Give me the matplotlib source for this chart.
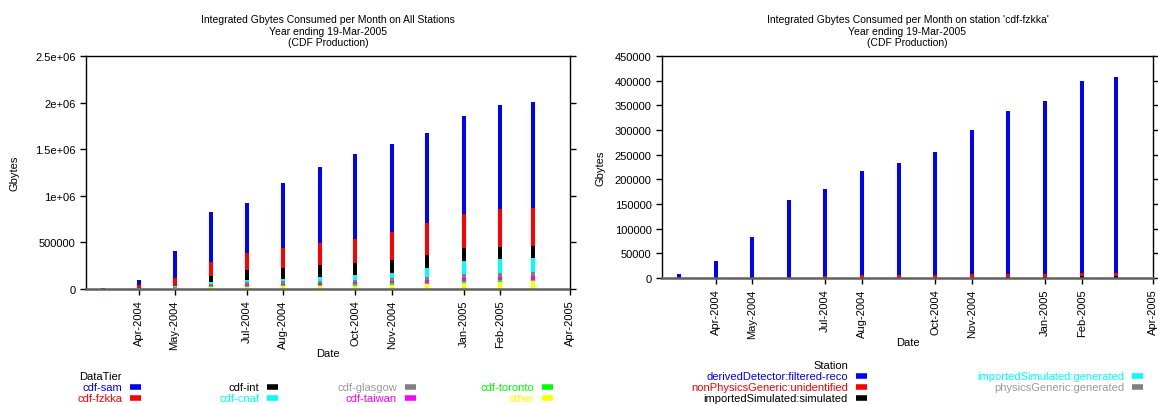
import matplotlib
matplotlib.use('Agg')
import matplotlib.pyplot as plt
import matplotlib.dates as mdates
import matplotlib.ticker as mticker
from matplotlib.lines import Line2D
import pandas as pd
import numpy as np

plt.rcParams['font.family'] = ['Liberation Sans', 'DejaVu Sans']

# one bar per month (integrated over the year ending 19-Mar-2005)
months = ['2004-03-01', '2004-04-01', '2004-05-01', '2004-06-01', '2004-07-01',
          '2004-08-01', '2004-09-01', '2004-10-01', '2004-11-01', '2004-12-01',
          '2005-01-01', '2005-02-01', '2005-03-01']
tick_dates = ['2004-04-01', '2004-05-01', '2004-07-01', '2004-08-01', '2004-10-01',
              '2004-11-01', '2005-01-01', '2005-02-01', '2005-04-01']

# all stations (Gbytes)
cdf_sam = [0, 52000, 292000, 530000, 537000, 702000, 813000, 909000, 946000, 970000, 1053000, 1124000, 1136000]
cdf_fzkka = [9000, 35000, 84000, 159000, 181000, 217000, 234000, 256000, 300000, 339000, 358000, 400000, 407000]
cdf_int = [0, 0, 3000, 65000, 108000, 113000, 129000, 129000, 136000, 136000, 143000, 136000, 136000]
cdf_cnaf = [0, 3000, 10000, 14000, 18000, 25000, 43000, 50000, 61000, 100000, 140000, 143000, 151000]
cdf_glasgow = [0, 1000, 5000, 11000, 21000, 25000, 25000, 29000, 25000, 32000, 43000, 43000, 43000]
cdf_taiwan = [0, 1000, 5000, 14000, 21000, 18000, 18000, 21000, 25000, 29000, 36000, 36000, 36000]
cdf_toronto = [0, 1000, 3000, 11000, 11000, 11000, 11000, 14000, 18000, 18000, 18000, 18000, 18000]
other = [0, 2000, 7000, 21000, 25000, 29000, 32000, 36000, 47000, 50000, 64000, 79000, 82000]

# station cdf-fzkka (Gbytes)
derived_reco = [9000, 34500, 83000, 157000, 176000, 211000, 228000, 250000, 291000, 330500, 349000, 390000, 397000]
nonphys_unid = [0, 500, 1000, 2000, 5000, 6000, 6000, 6000, 8000, 7000, 7000, 6000, 6000]
imp_simulated = [0, 0, 0, 0, 0, 0, 0, 0, 1000, 1500, 2000, 4000, 4000]
imp_generated = [0, 0, 0, 0, 0, 0, 0, 0, 0, 0, 0, 0, 0]
phys_generated = [0, 0, 0, 0, 0, 0, 0, 0, 0, 0, 0, 0, 0]

BLUE, RED, BLACK, CYAN = '#0000ff', '#ff0000', '#000000', '#00ffff'
GRAY, MAGENTA, GREEN, YELLOW = '#808080', '#ff00ff', '#00ff00', '#ffff00'

dates = pd.to_datetime(months)
ticks = pd.to_datetime(tick_dates)

W, H = 1158, 406
fig = plt.figure(figsize=(W / 100, H / 100), dpi=100)


def px(x, y):
    return x / W, 1 - y / H


def setup_axes(ax, title, ymax, ystep, fmt, ylab_x, xlab_y):
    ax.set_xlim(pd.Timestamp('2004-02-16'), pd.Timestamp('2005-04-01'))
    ax.set_ylim(0, ymax)
    ax.set_xticks(ticks)
    ax.xaxis.set_major_formatter(mdates.DateFormatter('%b-%Y'))
    ax.yaxis.set_major_locator(mticker.MultipleLocator(ystep))
    ax.yaxis.set_major_formatter(fmt)
    ax.tick_params(axis='x', rotation=90, labelsize=8, length=4, width=1, direction='out')
    ax.tick_params(axis='y', labelsize=8, length=4, width=1, direction='out', right=True)
    ax.set_title(title, fontsize=7.5, pad=8, linespacing=1.15)
    ax.set_ylabel('Gbytes', fontsize=8)
    ax.yaxis.set_label_coords(ylab_x, 0.5)
    ax.set_xlabel('Date', fontsize=8)
    ax.xaxis.set_label_coords(0.5, xlab_y)
    for s in ('left', 'right', 'top'):
        ax.spines[s].set_linewidth(1)
    ax.spines['bottom'].set_color('#606060')
    ax.spines['bottom'].set_linewidth(1.8)
    ax.spines['bottom'].set_linestyle((0, (1, 1)))


def stack(ax, series, colors):
    bottom = np.zeros(len(dates))
    for vals, c in zip(series, colors):
        ax.bar(dates, vals, bottom=bottom, width=3.4, color=c, linewidth=0, align='center')
        bottom += np.array(vals)


def legend_entry(text, tcolor, scolor, x_end, y):
    fig.text(*px(x_end, y), text, color=tcolor, fontsize=8, ha='right', va='center')
    x0, y0 = px(x_end + 8, y)
    x1, _ = px(x_end + 19, y)
    fig.add_artist(Line2D([x0, x1], [y0, y0], color=scolor, lw=4, solid_capstyle='butt'))


def gfmt(v, pos):
    return '%g' % v


# left chart
ax1 = fig.add_axes([86 / W, 1 - 290 / H, (570 - 86) / W, (290 - 57) / H])
stack(ax1,
      [other, cdf_toronto, cdf_taiwan, cdf_glasgow, cdf_cnaf, cdf_int, cdf_fzkka, cdf_sam],
      [YELLOW, GREEN, MAGENTA, GRAY, CYAN, BLACK, RED, BLUE])
setup_axes(ax1, 'Integrated Gbytes Consumed per Month on All Stations\nYear ending 19-Mar-2005\n(CDF Production)',
           2.5e6, 500000, mticker.FuncFormatter(gfmt), -0.138, -0.253)

fig.text(*px(122, 377), 'DataTier', color='black', fontsize=8, ha='right', va='center')
legend_entry('cdf-sam', BLUE, BLUE, 122, 388)
legend_entry('cdf-fzkka', RED, RED, 122, 399)
legend_entry('cdf-int', BLACK, BLACK, 259, 388)
legend_entry('cdf-cnaf', CYAN, CYAN, 259, 399)
legend_entry('cdf-glasgow', '#9a9a9a', GRAY, 397, 388)
legend_entry('cdf-taiwan', MAGENTA, MAGENTA, 397, 399)
legend_entry('cdf-toronto', GREEN, GREEN, 534, 388)
legend_entry('other', YELLOW, YELLOW, 534, 399)

# right chart
ax2 = fig.add_axes([662 / W, 1 - 279 / H, (1153 - 662) / W, (279 - 57) / H])
stack(ax2,
      [phys_generated, imp_generated, imp_simulated, nonphys_unid, derived_reco],
      [GRAY, CYAN, BLACK, RED, BLUE])
setup_axes(ax2, "Integrated Gbytes Consumed per Month on station 'cdf-fzkka'\nYear ending 19-Mar-2005\n(CDF Production)",
           450000, 50000, mticker.FuncFormatter(gfmt), -0.116, -0.266)

fig.text(*px(848, 366), 'Station', color='black', fontsize=8, ha='right', va='center')
legend_entry('derivedDetector:filtered-reco', BLUE, BLUE, 848, 377)
legend_entry('nonPhysicsGeneric:unidentified', RED, RED, 848, 388)
legend_entry('importedSimulated:simulated', BLACK, BLACK, 848, 399)
legend_entry('importedSimulated:generated', CYAN, CYAN, 1124, 377)
legend_entry('physicsGeneric:generated', '#9a9a9a', GRAY, 1124, 388)

fig.savefig('out.png', dpi=100)
